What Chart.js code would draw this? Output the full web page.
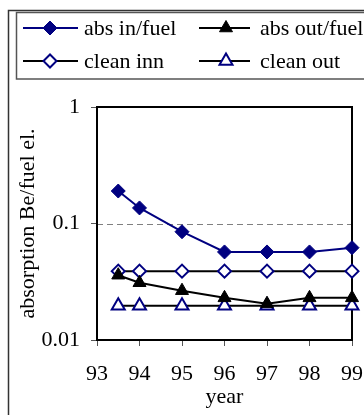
<!DOCTYPE html>
<html>
<head>
<meta charset="utf-8">
<script src="https://cdn.jsdelivr.net/npm/chart.js@4/dist/chart.umd.min.js"></script>
<style>
html,body{margin:0;padding:0;background:#fff;}
#wrap{position:relative;width:364px;height:415px;}
</style>
</head>
<body>
<div id="wrap"><canvas id="c" width="364" height="415"></canvas></div>
<script>
const years = [93.5, 94, 95, 96, 97, 98, 99];
const absInFuel = [0.19, 0.136, 0.085, 0.057, 0.057, 0.057, 0.062];
const absOutFuel = [0.036, 0.031, 0.0265, 0.023, 0.0205, 0.023, 0.023];
const cleanInn = [0.039, 0.039, 0.039, 0.039, 0.039, 0.039, 0.039];
const cleanOut = [0.0197, 0.0197, 0.0197, 0.0197, 0.0197, 0.0197, 0.0197];
const yTicks = [0.01, 0.1, 1];
const xTicks = [93, 94, 95, 96, 97, 98, 99];
const seriesNames = ['abs in/fuel', 'abs out/fuel', 'clean inn', 'clean out'];

const FONT = "'Liberation Serif', 'Times New Roman', serif";
const NAVY = '#000080';

function pts(vals){ return vals.map((v,i)=>({x:years[i], y:v})); }

const datasets = [
  {label: seriesNames[0], data: pts(absInFuel), borderColor: NAVY, backgroundColor: NAVY,
   pointStyle:'rectRot', pointRadius:7, pointBorderWidth:1, pointBorderColor:NAVY, pointBackgroundColor:NAVY, borderWidth:2},
  {label: seriesNames[1], data: pts(absOutFuel), borderColor: '#000', backgroundColor:'#000',
   pointStyle:'triangle', pointRadius:7.5, pointBorderWidth:1, pointBorderColor:'#000', pointBackgroundColor:'#000', borderWidth:2},
  {label: seriesNames[2], data: pts(cleanInn), borderColor: '#000', backgroundColor:'#fff',
   pointStyle:'rectRot', pointRadius:6.5, pointBorderWidth:2, pointBorderColor:NAVY, pointBackgroundColor:'#fff', borderWidth:2},
  {label: seriesNames[3], data: pts(cleanOut), borderColor: '#000', backgroundColor:'#fff',
   pointStyle:'triangle', pointRadius:7.5, pointBorderWidth:2, pointBorderColor:NAVY, pointBackgroundColor:'#fff', borderWidth:2}
];
datasets.forEach(d=>{ d.clip = false; d.tension = 0; d.fill = false; });
datasets[0].order = 1; datasets[1].order = 2; datasets[2].order = 3; datasets[3].order = 4;

function drawMarker(ctx, ds, x, y){
  const opts = {pointStyle: ds.pointStyle, radius: ds.pointRadius, borderWidth: ds.pointBorderWidth, rotation:0};
  ctx.save();
  ctx.fillStyle = ds.pointBackgroundColor;
  ctx.strokeStyle = ds.pointBorderColor;
  ctx.lineWidth = ds.pointBorderWidth;
  if (Chart.helpers && Chart.helpers.drawPoint) {
    Chart.helpers.drawPoint(ctx, opts, x, y);
  }
  ctx.restore();
}

const framePlugin = {
  id:'frame',
  beforeDraw(chart){
    const ctx = chart.ctx;
    ctx.save();
    ctx.fillStyle = '#fff';
    ctx.fillRect(0,0,chart.width,chart.height);
    ctx.strokeStyle = '#333';
    ctx.lineWidth = 1.5;
    ctx.strokeRect(8.5, 10.5, chart.width + 20, chart.height + 20);
    ctx.strokeStyle = '#555';
    ctx.lineWidth = 1.5;
    ctx.strokeRect(16.5, 12.5, chart.width + 20, 66.5);
    const cols = [{lx1:23, lx2:78, mx:50, tx:84},{lx1:199, lx2:250, mx:226, tx:260}];
    const rows = [28, 61];
    const ds = chart.data.datasets;
    ctx.font = '22px ' + FONT;
    ctx.textBaseline = 'middle';
    for (let i=0;i<4;i++){
      const c = cols[i%2], y = rows[Math.floor(i/2)];
      ctx.beginPath();
      ctx.strokeStyle = ds[i].borderColor;
      ctx.lineWidth = 2;
      ctx.moveTo(c.lx1, y); ctx.lineTo(c.lx2, y); ctx.stroke();
      drawMarker(ctx, ds[i], c.mx, y);
      ctx.fillStyle = '#000';
      ctx.fillText(ds[i].label, c.tx, y + 1);
    }
    ctx.restore();
  },
  beforeDatasetsDraw(chart){
    const ctx = chart.ctx, a = chart.chartArea;
    const y = chart.scales.y.getPixelForValue(0.1);
    ctx.save();
    ctx.strokeStyle = '#808080';
    ctx.lineWidth = 1;
    ctx.setLineDash([6,4]);
    ctx.beginPath();
    ctx.moveTo(a.left, Math.round(y)+0.5); ctx.lineTo(a.right, Math.round(y)+0.5); ctx.stroke();
    ctx.setLineDash([]);
    ctx.strokeStyle = '#000';
    ctx.lineWidth = 2;
    ctx.strokeRect(a.left, a.top, a.right - a.left, a.bottom - a.top);
    ctx.restore();
  }
};

new Chart(document.getElementById('c'), {
  type: 'line',
  data: { datasets },
  options: {
    responsive: false,
    animation: false,
    devicePixelRatio: 1,
    layout: { padding: { top: 107, right: 12, left: 0, bottom: 0 } },
    plugins: { legend: { display: false }, tooltip: { enabled: false } },
    scales: {
      x: {
        type: 'linear', min: 93, max: 99,
        afterBuildTicks(s){ s.ticks = xTicks.map(v=>({value:v})); },
        afterFit(s){ s.height = 75; s.paddingLeft = 0; s.paddingRight = 0; },
        ticks: { color:'#000', font:{family:FONT, size:22, lineHeight:1.2}, padding: 15, maxRotation:0, autoSkip:false,
                 callback: v => String(v) },
        grid: { drawOnChartArea:false, drawTicks:true, tickLength:6, tickColor:'#555', color:'#000', lineWidth:1 },
        border: { display:true, color:'#000', width:2 },
        title: { display:true, text:'year', color:'#000', font:{family:FONT, size:22, lineHeight:1.2}, padding:{top:0, bottom:5} }
      },
      y: {
        type: 'logarithmic', min: 0.01, max: 1,
        afterBuildTicks(s){ s.ticks = yTicks.map(v=>({value:v})); },
        afterFit(s){ s.width = 97; s.paddingTop = 0; s.paddingBottom = 0; },
        ticks: { color:'#000', font:{family:FONT, size:22, lineHeight:1.2}, padding: 11,
                 callback: v => String(v) },
        grid: { drawOnChartArea:false, drawTicks:true, tickLength:6, tickColor:'#555', color:'#000', lineWidth:1 },
        border: { display:true, color:'#000', width:2 },
        title: { display:true, text:'absorption Be/fuel el.', color:'#000', font:{family:FONT, size:22, lineHeight:1.2}, padding:{top:15, bottom:0} }
      }
    }
  },
  plugins: [framePlugin]
});
</script>
</body>
</html>
